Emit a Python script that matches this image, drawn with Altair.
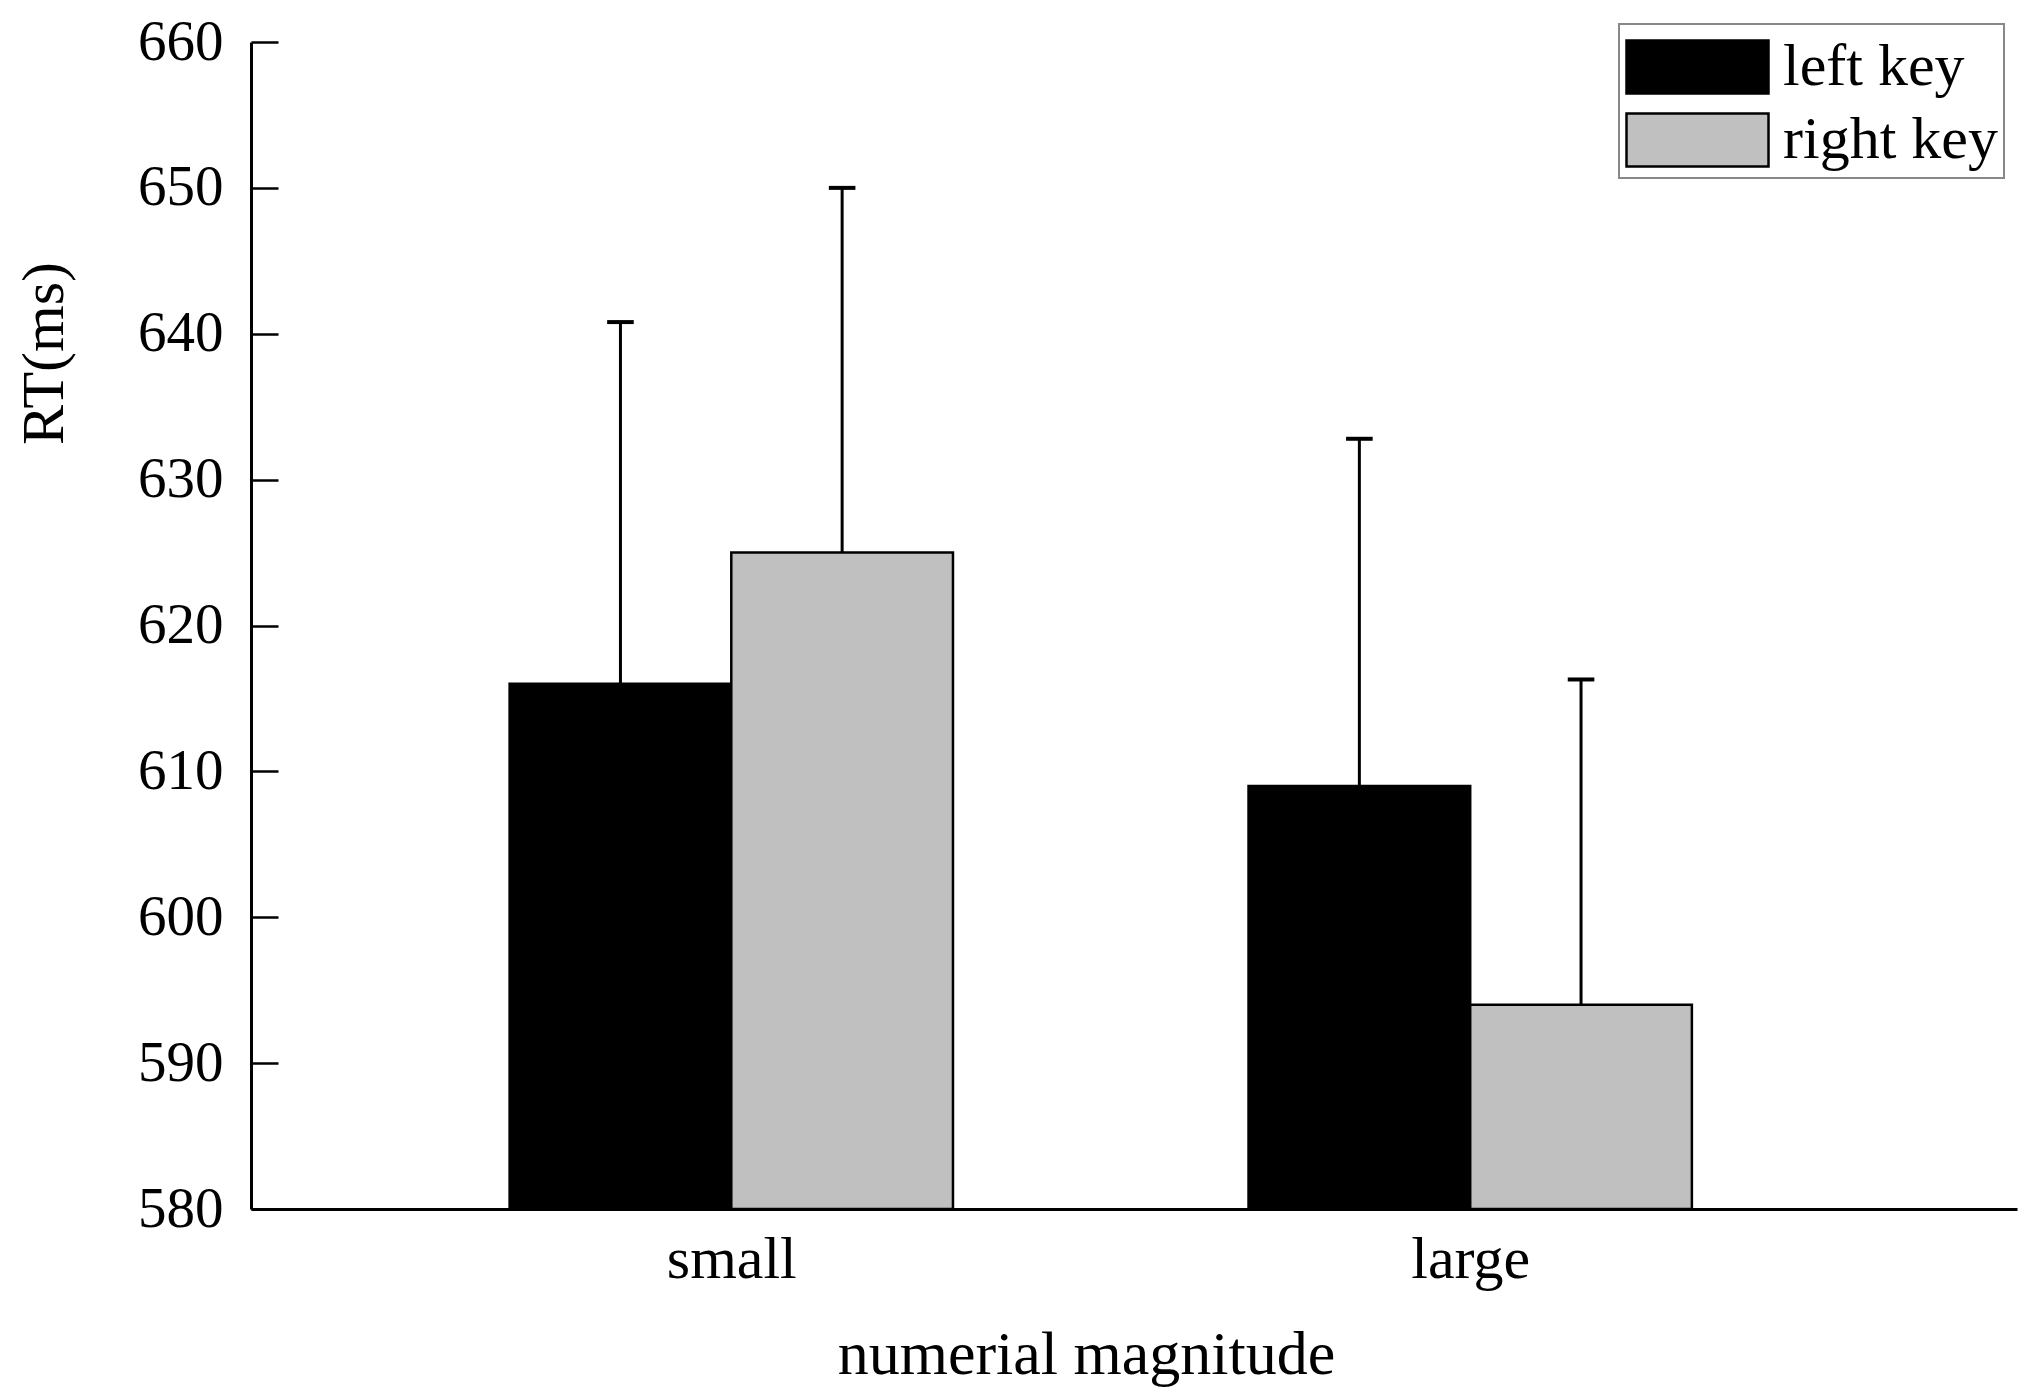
import altair as alt
import pandas as pd

categories = ["small", "large"]
keys = ["left key", "right key"]
left_mean = [616.0, 609.0]
right_mean = [625.0, 594.0]
left_upper = [640.8, 632.8]
right_upper = [650.0, 616.3]
y_ticks = [580, 590, 600, 610, 620, 630, 640, 650, 660]
key_colors = ["#000000", "#c0c0c0"]

rows = []
for i, c in enumerate(categories):
    rows.append({"cat": c, "idx": i + 1, "key": keys[0], "side": -1,
                 "mean": left_mean[i], "upper": left_upper[i]})
    rows.append({"cat": c, "idx": i + 1, "key": keys[1], "side": 1,
                 "mean": right_mean[i], "upper": right_upper[i]})
df = pd.DataFrame(rows)
tick_df = pd.DataFrame({"t": y_ticks})

FONT = "Liberation Serif"
FS = 60
W = 1766
H = 1167

label_expr = "[" + ",".join("'%s'" % c for c in categories) + "][datum.value - 1]"

xscale = alt.Scale(domain=[0.35, 2.74], nice=False, zero=False)
yscale = alt.Scale(domain=[580, 660], nice=False, zero=False)

xaxis = alt.Axis(values=[1, 2], labelExpr=label_expr, ticks=False, tickSize=0,
                 grid=False, domainColor="black", domainWidth=3,
                 labelFont=FONT, labelFontSize=FS, labelColor="black",
                 labelBaseline="alphabetic", labelPadding=68,
                 title="numerial magnitude", titleFont=FONT, titleFontSize=62,
                 titleFontWeight="normal", titleColor="black",
                 titleX=835, titleY=164, titleAlign="center",
                 titleBaseline="alphabetic")
yaxis = alt.Axis(values=y_ticks, ticks=False, tickSize=0, grid=False,
                 domainColor="black", domainWidth=3,
                 labelFont=FONT, labelFontSize=57, labelColor="black",
                 labelPadding=28, labelBaseline="middle",
                 title="RT(ms)", titleFont=FONT, titleFontSize=FS,
                 titleFontWeight="normal", titleColor="black",
                 titleAngle=270, titleX=-207, titleY=311,
                 titleAlign="center", titleBaseline="middle")
# inward-pointing ticks: a second axis on the same scale, moved onto the left edge
tickaxis = alt.Axis(orient="right", offset=-W, values=y_ticks, ticks=True,
                    tickSize=27, tickWidth=2.5, tickColor="black",
                    labels=False, domain=False, grid=False, title=None)

base = alt.Chart(df).transform_calculate(
    x0="datum.idx + (datum.side < 0 ? -0.3 : 0)",
    x1="datum.idx + (datum.side < 0 ? 0 : 0.3)",
    xc="datum.idx + datum.side * 0.15",
    cl="datum.idx + datum.side * 0.15 - 0.018",
    cr="datum.idx + datum.side * 0.15 + 0.018",
)

bars = base.mark_bar(stroke="black", strokeWidth=2.5).encode(
    x=alt.X("x0:Q", scale=xscale, axis=xaxis),
    x2="x1:Q",
    y=alt.Y("mean:Q", scale=yscale, axis=yaxis),
    y2=alt.datum(580),
    color=alt.Color("key:N",
                    scale=alt.Scale(domain=keys, range=key_colors),
                    legend=alt.Legend(
                        title=None, orient="none", legendX=1368, legendY=-18,
                        symbolType="M-1,-0.746H3V0.746H-1Z", symbolSize=5041,
                        symbolStrokeColor="black", symbolStrokeWidth=2.5,
                        symbolOpacity=1,
                        labelFont=FONT, labelFontSize=FS, labelColor="black",
                        labelOffset=84, labelLimit=600, rowPadding=4)),
)

stems = base.mark_rule(color="black", strokeWidth=3).encode(
    x=alt.X("xc:Q", scale=xscale, axis=xaxis),
    y=alt.Y("mean:Q", scale=yscale, axis=yaxis),
    y2="upper:Q",
)

caps = base.mark_rule(color="black", strokeWidth=4).encode(
    x=alt.X("cl:Q", scale=xscale, axis=xaxis),
    x2="cr:Q",
    y=alt.Y("upper:Q", scale=yscale, axis=yaxis),
)

inticks = alt.Chart(tick_df).mark_point(opacity=0).encode(
    y=alt.Y("t:Q", scale=yscale, axis=tickaxis),
    x=alt.value(0),
)

chart = alt.layer(
    alt.layer(bars, stems, caps), inticks
).resolve_axis(y="independent").properties(
    width=W,
    height=H,
    padding={"left": 243, "top": 34, "right": 4, "bottom": 178},
    autosize=alt.AutoSizeParams(type="none"),
).configure_view(stroke=None).configure_legend(
    strokeColor="#888888", strokeWidth=2, padding=6, fillColor="white"
)

chart.save("out.html", embed_options={"renderer": "svg", "actions": False})
